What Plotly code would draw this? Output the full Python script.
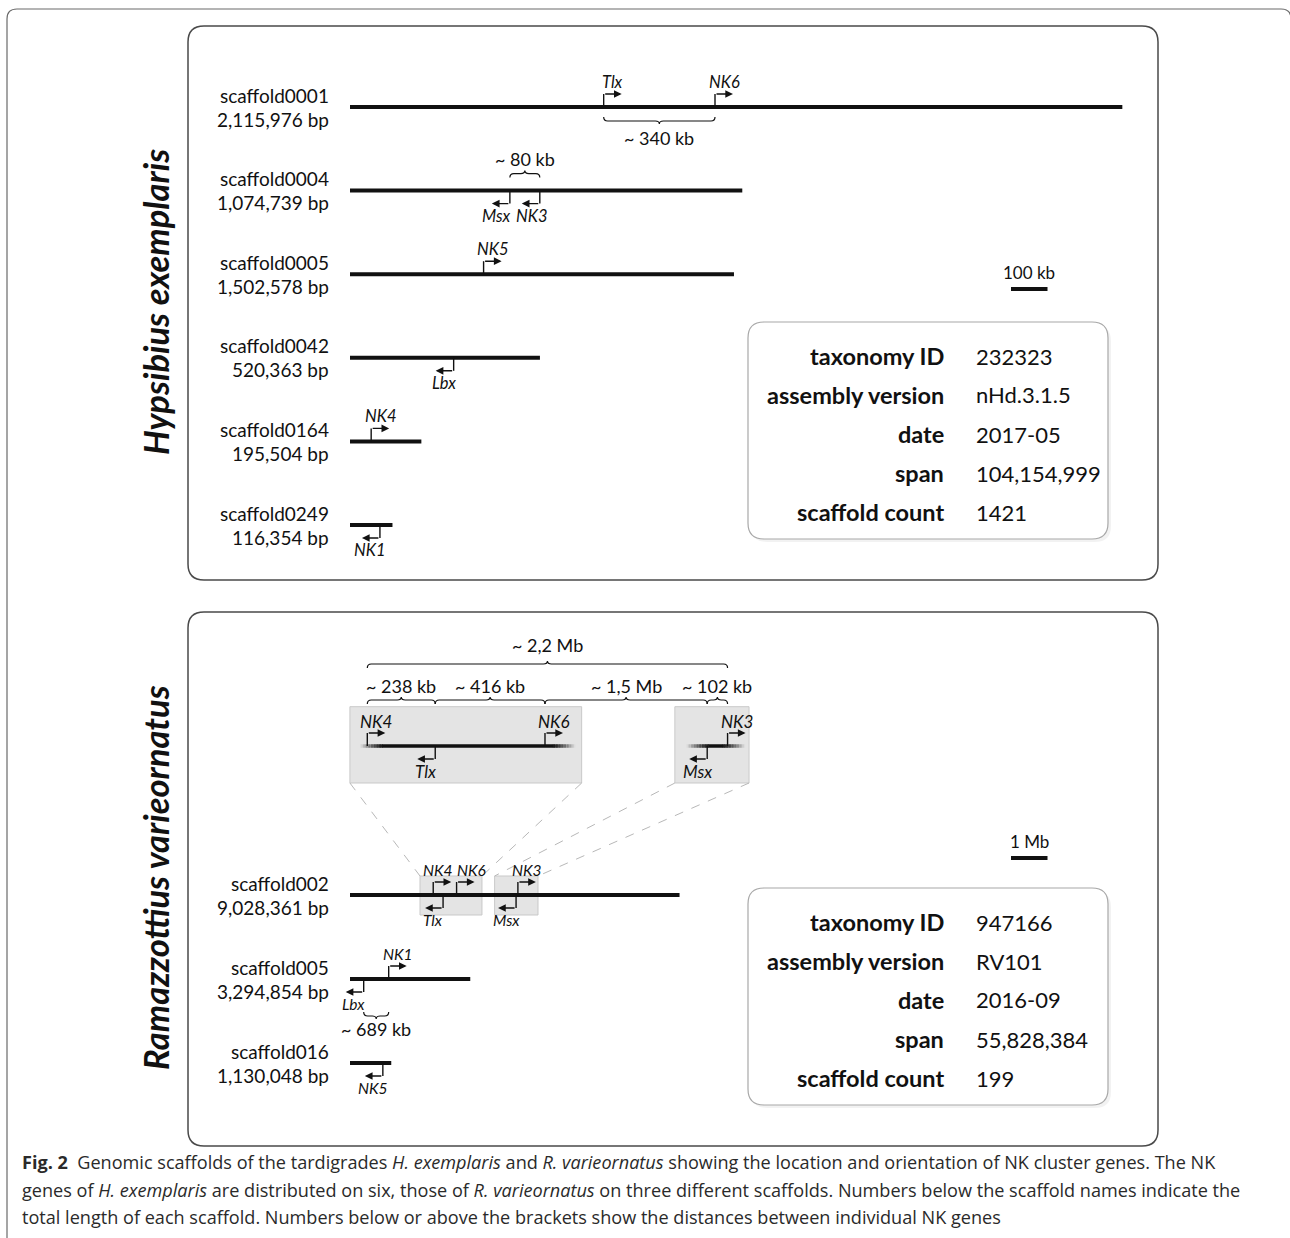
import plotly.graph_objects as go

W, H = 1290, 1238

# ---------------- data : Hypsibius exemplaris ----------------
he_scaffolds = ["scaffold0001", "scaffold0004", "scaffold0005", "scaffold0042", "scaffold0164", "scaffold0249"]
he_lengths = ["2,115,976 bp", "1,074,739 bp", "1,502,578 bp", "520,363 bp", "195,504 bp", "116,354 bp"]
he_drawn_bp = [2115976, 1074739, 1052000, 520363, 195504, 116354]
he_genes = ["Tlx", "NK6", "Msx", "NK3", "NK5", "Lbx", "NK4", "NK1"]
he_gene_row = [0, 0, 1, 1, 2, 3, 4, 5]
he_gene_bp = [695000, 1000000, 438000, 520000, 366000, 284000, 58000, 82000]
he_gene_strand = [1, 1, -1, -1, 1, -1, 1, -1]
he_dist_from = ["Tlx", "Msx"]
he_dist_to = ["NK6", "NK3"]
he_dist_text = ["~ 340 kb", "~ 80 kb"]
he_info_values = ["232323", "nHd.3.1.5", "2017-05", "104,154,999", "1421"]
he_scale_bp = 100000
he_scale_text = "100 kb"

# ---------------- data : Ramazzottius varieornatus ----------------
rv_scaffolds = ["scaffold002", "scaffold005", "scaffold016"]
rv_lengths = ["9,028,361 bp", "3,294,854 bp", "1,130,048 bp"]
rv_drawn_bp = [9028361, 3294854, 1130048]
rv_genes = ["NK4", "Tlx", "NK6", "Msx", "NK3", "Lbx", "NK1", "NK5"]
rv_gene_row = [0, 0, 0, 0, 0, 1, 1, 2]
rv_gene_bp = [2280000, 2550000, 2920000, 4550000, 4600000, 375000, 1060000, 900000]
rv_gene_strand = [1, -1, 1, -1, 1, -1, 1, -1]
rv_dist_from = ["Lbx"]
rv_dist_to = ["NK1"]
rv_dist_text = ["~ 689 kb"]
rv_window_start = [1918000, 3962000]
rv_window_end = [3616000, 5151000]
rv_info_values = ["947166", "RV101", "2016-09", "55,828,384", "199"]
rv_scale_bp = 1000000
rv_scale_text = "1 Mb"

# ---------------- data : zoomed inset (schematic kb) ----------------
inset_genes = ["NK4", "Tlx", "NK6", "Msx", "NK3"]
inset_kb = [0, 250, 654, 1251, 1326]
inset_strand = [1, -1, 1, -1, 1]
inset_seg_start = [-27, 1174]
inset_seg_end = [766, 1391]
inset_box_start = [-64, 1132]
inset_box_end = [789, 1405]
inset_dist_from = ["NK4", "Tlx", "NK6", "Msx"]
inset_dist_to = ["Tlx", "NK6", "Msx", "NK3"]
inset_dist_text = ["~ 238 kb", "~ 416 kb", "~ 1,5 Mb", "~ 102 kb"]
inset_total_from, inset_total_to, inset_total_text = "NK4", "NK3", "~ 2,2 Mb"

info_keys = ["taxonomy ID", "assembly version", "date", "span", "scaffold count"]
species = ["Hypsibius exemplaris", "Ramazzottius varieornatus"]
caption_lines = [
    "<b>Fig. 2</b>  Genomic scaffolds of the tardigrades <i>H. exemplaris</i> and <i>R. varieornatus</i> showing the location and orientation of NK cluster genes. The NK",
    "genes of <i>H. exemplaris</i> are distributed on six, those of <i>R. varieornatus</i> on three different scaffolds. Numbers below the scaffold names indicate the",
    "total length of each scaffold. Numbers below or above the brackets show the distances between individual NK genes",
]

# ---------------- style ----------------
INK = "#111111"
FONT = "Lato"
GENE_SIZE = 16.5
DIST_SIZE = 18
shapes, annotations = [], []


class Frame:
    def __init__(s, xa, ya, px0, upp, py0, rpx):
        s.x, s.y, s.px0, s.upp, s.py0, s.rpx = xa, ya, px0, upp, py0, rpx

    def xrange(s):
        return [-s.px0 * s.upp, (W - s.px0) * s.upp]

    def yrange(s):
        return [(H - s.py0) / s.rpx, -s.py0 / s.rpx]

    def dx(s, px):
        return px * s.upp

    def dy(s, px):
        return px / s.rpx

    def to_px_x(s, v):
        return s.px0 + v / s.upp

    def from_px_x(s, p):
        return (p - s.px0) * s.upp

    def from_px_y(s, p):
        return (p - s.py0) / s.rpx


F1 = Frame("x", "y", 350, 1e5 / 36.5, 107, 83.6)
F2 = Frame("x2", "y2", 350, 1e6 / 36.5, 895, 84)
F3 = Frame("x3", "y3", 367.3, 1 / 0.2717, 746, 84)


def txt(F, x, y, text, size, xshift=0, yshift=0, xanchor="center", color=INK, **kw):
    annotations.append(dict(x=x, y=y, xref=F.x, yref=F.y, text=text, showarrow=False,
                            xshift=xshift, yshift=yshift, xanchor=xanchor, yanchor="middle",
                            font=dict(family=FONT, size=size, color=color), **kw))


def gene(F, pos, row, strand, name, lab_dx=0, size=GENE_SIZE):
    shapes.append(dict(type="line", xref=F.x, yref=F.y, x0=pos, x1=pos, y0=row,
                       y1=row - strand * F.dy(13), line=dict(color=INK, width=1.4)))
    annotations.append(dict(x=pos, y=row, xref=F.x, yref=F.y, text="", showarrow=True,
                            xshift=strand * 18, yshift=strand * 13, ax=-strand * 18, ay=0,
                            arrowhead=2, arrowsize=1.1, arrowwidth=1.4, arrowcolor=INK, standoff=0))
    txt(F, pos, row, "<i>%s</i>" % name, size,
        xshift=(9 if strand > 0 else -10) + lab_dx, yshift=strand * 25)


def brace(F, xa, xb, row, off_px, s, label, lab_off, size=DIST_SIZE, r=4, hook=4, tip=3):
    y = row + F.dy(off_px)
    yh = y - s * F.dy(hook)
    yt = y + s * F.dy(tip)
    m = (xa + xb) / 2
    rx = F.dx(r)
    path = (f"M{xa},{yh} Q{xa},{y} {xa + rx},{y} L{m - rx},{y} Q{m},{y} {m},{yt} "
            f"Q{m},{y} {m + rx},{y} L{xb - rx},{y} Q{xb},{y} {xb},{yh}")
    shapes.append(dict(type="path", xref=F.x, yref=F.y, path=path, line=dict(color=INK, width=1.2)))
    txt(F, m, row, label, size, yshift=-lab_off)


def px(xp, yp):
    return xp / W, 1 - yp / H


def rrect(x0, y0, x1, y1, r, color, width, fill="rgba(0,0,0,0)", layer="above", open_bottom=False):
    pts = []
    a = px(x0, y1 if open_bottom else y1 - r); pts.append(f"M{a[0]},{a[1]}")
    a = px(x0, y0 + r); pts.append(f"L{a[0]},{a[1]}")
    a, b = px(x0, y0), px(x0 + r, y0); pts.append(f"Q{a[0]},{a[1]} {b[0]},{b[1]}")
    a = px(x1 - r, y0); pts.append(f"L{a[0]},{a[1]}")
    a, b = px(x1, y0), px(x1, y0 + r); pts.append(f"Q{a[0]},{a[1]} {b[0]},{b[1]}")
    if open_bottom:
        a = px(x1, y1); pts.append(f"L{a[0]},{a[1]}")
    else:
        a = px(x1, y1 - r); pts.append(f"L{a[0]},{a[1]}")
        a, b = px(x1, y1), px(x1 - r, y1); pts.append(f"Q{a[0]},{a[1]} {b[0]},{b[1]}")
        a = px(x0 + r, y1); pts.append(f"L{a[0]},{a[1]}")
        a, b = px(x0, y1), px(x0, y1 - r); pts.append(f"Q{a[0]},{a[1]} {b[0]},{b[1]}")
        pts.append("Z")
    shapes.append(dict(type="path", xref="paper", yref="paper", path=" ".join(pts),
                       line=dict(color=color, width=width), fillcolor=fill, layer=layer))


fig = go.Figure()

# ---------------- frames ----------------
rrect(7, 9, 1291, 1250, 10, "#6a6a6a", 1.2, open_bottom=True)
rrect(188, 26, 1158, 580, 16, "#4a4a4a", 1.5)
rrect(188, 612, 1158, 1146, 16, "#4a4a4a", 1.5)

# ---------------- panel 1 ----------------
xs, ys = [], []
for i, L in enumerate(he_drawn_bp):
    xs += [0, L, None]
    ys += [i, i, None]
    txt(F1, 0, i, he_scaffolds[i], 19, xshift=-19, yshift=12, xanchor="right")
    txt(F1, 0, i, he_lengths[i], 19, xshift=-19, yshift=-12, xanchor="right")
fig.add_trace(go.Scatter(x=xs, y=ys, xaxis="x", yaxis="y", mode="lines",
                         line=dict(color=INK, width=4), hoverinfo="skip", showlegend=False))
he_pos = {}
he_adjust = {"Msx": -3, "NK3": 2}
for g, r, p, s in zip(he_genes, he_gene_row, he_gene_bp, he_gene_strand):
    gene(F1, p, r, s, g, lab_dx=he_adjust.get(g, 0))
    he_pos[g] = (p, r, s)
for a, b, t in zip(he_dist_from, he_dist_to, he_dist_text):
    pa, ra, sa = he_pos[a]
    pb = he_pos[b][0]
    if sa > 0:
        brace(F1, pa, pb, ra, 14, 1, t, 31)
    else:
        brace(F1, pa, pb, ra, -17, -1, t, -32)

# scale bar panel 1
sb0 = F1.from_px_x(1011)
sby = F1.from_px_y(289)
shapes.append(dict(type="line", xref="x", yref="y", x0=sb0, x1=sb0 + he_scale_bp, y0=sby, y1=sby,
                   line=dict(color=INK, width=4)))
txt(F1, sb0 + he_scale_bp / 2, sby, he_scale_text, 17, yshift=17)

# ---------------- panel 2 ----------------
for ws, we in zip(rv_window_start, rv_window_end):
    shapes.append(dict(type="rect", xref="x2", yref="y2", x0=ws, x1=we,
                       y0=F2.from_px_y(876), y1=F2.from_px_y(915),
                       fillcolor="#e4e4e4", line=dict(color="#c9c9c9", width=1), layer="below"))
xs, ys = [], []
for i, L in enumerate(rv_drawn_bp):
    xs += [0, L, None]
    ys += [i, i, None]
    txt(F2, 0, i, rv_scaffolds[i], 19, xshift=-19, yshift=12, xanchor="right")
    txt(F2, 0, i, rv_lengths[i], 19, xshift=-19, yshift=-12, xanchor="right")
fig.add_trace(go.Scatter(x=xs, y=ys, xaxis="x2", yaxis="y2", mode="lines",
                         line=dict(color=INK, width=4), hoverinfo="skip", showlegend=False))
rv_pos = {}
rv_adjust = {"NK4": -4, "NK6": 6}
for g, r, p, s in zip(rv_genes, rv_gene_row, rv_gene_bp, rv_gene_strand):
    gene(F2, p, r, s, g, lab_dx=rv_adjust.get(g, 0) if r == 0 else 0, size=15.5)
    rv_pos[g] = (p, r, s)
for a, b, t in zip(rv_dist_from, rv_dist_to, rv_dist_text):
    pa, ra, sa = rv_pos[a]
    pb = rv_pos[b][0]
    brace(F2, pa, pb, ra, 37, 1, t, 50)

sb0 = F2.from_px_x(1011)
sby = F2.from_px_y(858)
shapes.append(dict(type="line", xref="x2", yref="y2", x0=sb0, x1=sb0 + rv_scale_bp, y0=sby, y1=sby,
                   line=dict(color=INK, width=4)))
txt(F2, sb0 + rv_scale_bp / 2, sby, rv_scale_text, 17, yshift=17)

# ---------------- inset ----------------
box_top, box_bot = F3.from_px_y(706.7), F3.from_px_y(783)
for bs, be, ws, we in zip(inset_box_start, inset_box_end, rv_window_start, rv_window_end):
    shapes.append(dict(type="rect", xref="x3", yref="y3", x0=bs, x1=be, y0=box_top, y1=box_bot,
                       fillcolor="#e4e4e4", line=dict(color="#c9c9c9", width=1), layer="below"))
    for bx, wx in ((bs, ws), (be, we)):
        x_from = F2.from_px_x(F3.to_px_x(bx))
        shapes.append(dict(type="line", xref="x2", yref="y2", x0=x_from, y0=F2.from_px_y(783),
                           x1=wx, y1=F2.from_px_y(876),
                           line=dict(color="#b8b8b8", width=1, dash="dash"), layer="below"))

fade = 22
steps = 14
xs, ys = [], []
for s0, s1 in zip(inset_seg_start, inset_seg_end):
    xs += [s0 + F3.dx(fade), s1 - F3.dx(fade), None]
    ys += [0, 0, None]
    for k in range(steps):
        op = 0.95 * (1 - (k + 0.5) / steps)
        a0 = s0 + F3.dx(fade * (steps - k - 1) / steps)
        a1 = s0 + F3.dx(fade * (steps - k) / steps + 0.6)
        b0 = s1 - F3.dx(fade * (steps - k) / steps + 0.6)
        b1 = s1 - F3.dx(fade * (steps - k - 1) / steps)
        for u0, u1 in ((a0, a1), (b0, b1)):
            shapes.append(dict(type="line", xref="x3", yref="y3", x0=u0, x1=u1, y0=0, y1=0,
                               line=dict(color=f"rgba(17,17,17,{op:.2f})", width=3.5), layer="below"))
fig.add_trace(go.Scatter(x=xs, y=ys, xaxis="x3", yaxis="y3", mode="lines",
                         line=dict(color=INK, width=3.5), hoverinfo="skip", showlegend=False))
ins_pos = {}
for g, p, s in zip(inset_genes, inset_kb, inset_strand):
    gene(F3, p, 0, s, g, size=17)
    ins_pos[g] = p
for a, b, t in zip(inset_dist_from, inset_dist_to, inset_dist_text):
    brace(F3, ins_pos[a], ins_pos[b], 0, -46, -1, t, -60)
brace(F3, ins_pos[inset_total_from], ins_pos[inset_total_to], 0, -82, -1, inset_total_text, -101)

# ---------------- info boxes ----------------
for (y0, y1, vals) in ((322, 539, he_info_values), (888, 1105, rv_info_values)):
    rrect(751, y0 + 3, 1111, y1 + 3, 16, "rgba(0,0,0,0)", 0, fill="rgba(0,0,0,0.05)", layer="below")
    rrect(748, y0, 1108, y1, 16, "#a8a8a8", 1.2, fill="white", layer="below")
    for i, (k, v) in enumerate(zip(info_keys, vals)):
        yy = y0 + 34 + 39 * i
        annotations.append(dict(x=946 / W, y=1 - yy / H, xref="paper", yref="paper", text="<b>%s</b>" % k,
                                showarrow=False, xanchor="right", yanchor="middle",
                                font=dict(family=FONT, size=23.5, color=INK)))
        annotations.append(dict(x=974 / W, y=1 - yy / H, xref="paper", yref="paper", text=v,
                                showarrow=False, xanchor="left", yanchor="middle",
                                font=dict(family=FONT, size=22, color=INK)))

# ---------------- species labels ----------------
for name, yc in zip(species, (302, 878)):
    annotations.append(dict(x=155 / W, y=1 - yc / H, xref="paper", yref="paper",
                            text="<b><i>%s</i></b>" % name, textangle=-90, showarrow=False,
                            xanchor="center", yanchor="middle",
                            font=dict(family=FONT, size=34.5, color=INK)))

# ---------------- caption ----------------
for line, yc in zip(caption_lines, (1162, 1190, 1217)):
    annotations.append(dict(x=20 / W, y=1 - yc / H, xref="paper", yref="paper", text=line,
                            showarrow=False, xanchor="left", yanchor="middle",
                            font=dict(family="Open Sans", size=18.1, color="#2a2a2a")))


def ax_cfg(rng, **kw):
    d = dict(range=rng, domain=[0, 1], visible=False, fixedrange=True, showgrid=False, zeroline=False)
    d.update(kw)
    return d


fig.update_layout(
    width=W, height=H, autosize=False,
    margin=dict(l=0, r=0, t=0, b=0, pad=0),
    paper_bgcolor="white", plot_bgcolor="white",
    showlegend=False,
    xaxis=ax_cfg(F1.xrange()),
    yaxis=ax_cfg(F1.yrange()),
    xaxis2=ax_cfg(F2.xrange(), overlaying="x", anchor="y2"),
    yaxis2=ax_cfg(F2.yrange(), overlaying="y", anchor="x2"),
    xaxis3=ax_cfg(F3.xrange(), overlaying="x", anchor="y3"),
    yaxis3=ax_cfg(F3.yrange(), overlaying="y", anchor="x3"),
    shapes=shapes,
    annotations=annotations,
)

fig.write_html("out.html", config={"displayModeBar": False},
               post_script="document.body.style.margin='0';")
